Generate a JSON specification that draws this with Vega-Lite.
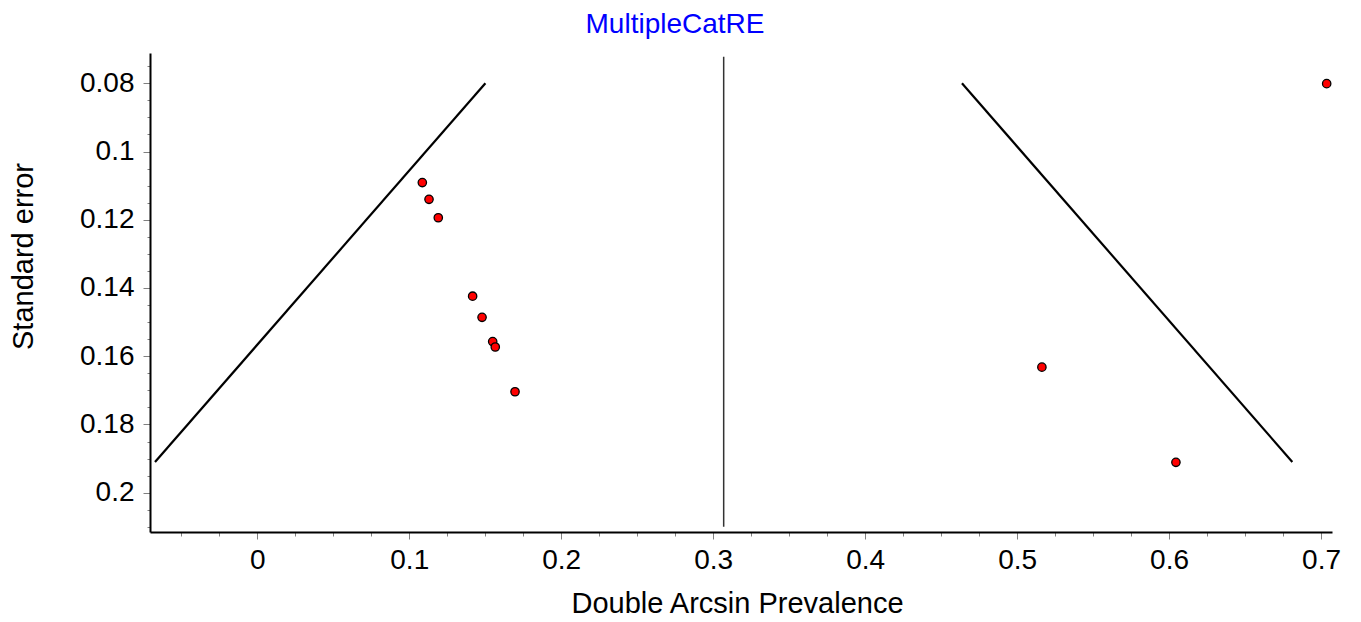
{
  "$schema": "https://vega.github.io/schema/vega-lite/v6.json",
  "width": 1182,
  "height": 479,
  "autosize": {"type": "none"},
  "padding": {"left": 150, "top": 53, "right": 29, "bottom": 90},
  "background": "white",
  "title": {
    "text": "MultipleCatRE",
    "color": "#0000FF",
    "font": "Liberation Sans",
    "fontSize": 28,
    "fontWeight": "normal",
    "anchor": "middle",
    "frame": "group",
    "dx": -66,
    "baseline": "alphabetic",
    "offset": 20,
    "dy": 28
  },
  "config": {
    "view": {"stroke": null},
    "axis": {
      "labelFont": "Liberation Sans",
      "titleFont": "Liberation Sans",
      "labelFontSize": 28,
      "titleFontSize": 29,
      "titleFontWeight": "normal",
      "labelColor": "black",
      "titleColor": "black",
      "grid": false,
      "labelFlush": false,
      "labelOverlap": false,
      "labelBound": false
    }
  },
  "datasets": {
    "studies": [
      {"es": 0.1086, "se": 0.1091},
      {"es": 0.1130, "se": 0.1140},
      {"es": 0.1191, "se": 0.1194},
      {"es": 0.1417, "se": 0.1424},
      {"es": 0.1479, "se": 0.1486},
      {"es": 0.1549, "se": 0.1557},
      {"es": 0.1566, "se": 0.1573},
      {"es": 0.1696, "se": 0.1704},
      {"es": 0.5163, "se": 0.1632},
      {"es": 0.6045, "se": 0.1911},
      {"es": 0.7037, "se": 0.0801}
    ],
    "funnel": [
      {"side": "L", "es": 0.1501, "se": 0.08},
      {"side": "L", "es": -0.0673, "se": 0.191},
      {"side": "R", "es": 0.4637, "se": 0.08},
      {"side": "R", "es": 0.6811, "se": 0.191}
    ],
    "pooled": [
      {"es": 0.3069, "se_top": 0.0722, "se_bottom": 0.21}
    ]
  },
  "resolve": {"axis": {"x": "independent", "y": "independent"}},
  "layer": [
    {
      "data": {"name": "funnel"},
      "mark": {"type": "line", "color": "black", "strokeWidth": 2.2},
      "encoding": {
        "x": {
          "field": "es", "type": "quantitative",
          "scale": {"domain": [-0.0706, 0.7072], "nice": false, "zero": false},
          "axis": {
            "orient": "bottom",
            "values": [-0.05, -0.025, 0.025, 0.05, 0.075, 0.125, 0.15, 0.175, 0.225, 0.25, 0.275, 0.325, 0.35, 0.375, 0.425, 0.45, 0.475, 0.525, 0.55, 0.575, 0.625, 0.65, 0.675],
            "labels": false, "domain": false, "title": null,
            "tickSize": 4, "tickColor": "#808080", "tickWidth": 1
          }
        },
        "y": {
          "field": "se", "type": "quantitative",
          "scale": {"domain": [0.07112, 0.21152], "nice": false, "zero": false, "reverse": true},
          "axis": {
            "orient": "left",
            "values": [0.075, 0.085, 0.09, 0.095, 0.105, 0.11, 0.115, 0.125, 0.13, 0.135, 0.145, 0.15, 0.155, 0.165, 0.17, 0.175, 0.185, 0.19, 0.195, 0.205, 0.21],
            "labels": false, "domain": false, "title": null,
            "tickSize": 3, "tickColor": "#808080", "tickWidth": 1
          }
        },
        "detail": {"field": "side"}
      }
    },
    {
      "data": {"name": "pooled"},
      "mark": {"type": "rule", "color": "#333333", "strokeWidth": 1.5},
      "encoding": {
        "x": {"field": "es", "type": "quantitative", "axis": null},
        "y": {"field": "se_top", "type": "quantitative", "axis": null},
        "y2": {"field": "se_bottom"}
      }
    },
    {
      "data": {"name": "studies"},
      "mark": {"type": "point", "shape": "circle", "filled": true, "fill": "#FF0000", "stroke": "black", "strokeWidth": 1.3, "opacity": 1, "size": 70},
      "encoding": {
        "x": {
          "field": "es", "type": "quantitative",
          "axis": {
            "orient": "bottom",
            "values": [0, 0.1, 0.2, 0.3, 0.4, 0.5, 0.6, 0.7],
            "format": "~g",
            "title": "Double Arcsin Prevalence",
            "titleX": 587,
            "titleY": 80,
            "titleBaseline": "alphabetic",
            "titleAlign": "center",
            "domainColor": "black",
            "domainWidth": 2,
            "tickSize": 7,
            "tickColor": "#808080",
            "tickWidth": 1,
            "labelPadding": 7
          }
        },
        "y": {
          "field": "se", "type": "quantitative",
          "axis": {
            "orient": "left",
            "values": [0.08, 0.1, 0.12, 0.14, 0.16, 0.18, 0.2],
            "format": "~g",
            "title": "Standard error",
            "titleX": -118,
            "titleY": 203,
            "titleAngle": -90,
            "titleBaseline": "alphabetic",
            "titleAlign": "center",
            "domainColor": "black",
            "domainWidth": 2,
            "tickSize": 7,
            "tickColor": "#808080",
            "tickWidth": 1,
            "labelPadding": 9
          }
        }
      }
    }
  ]
}
